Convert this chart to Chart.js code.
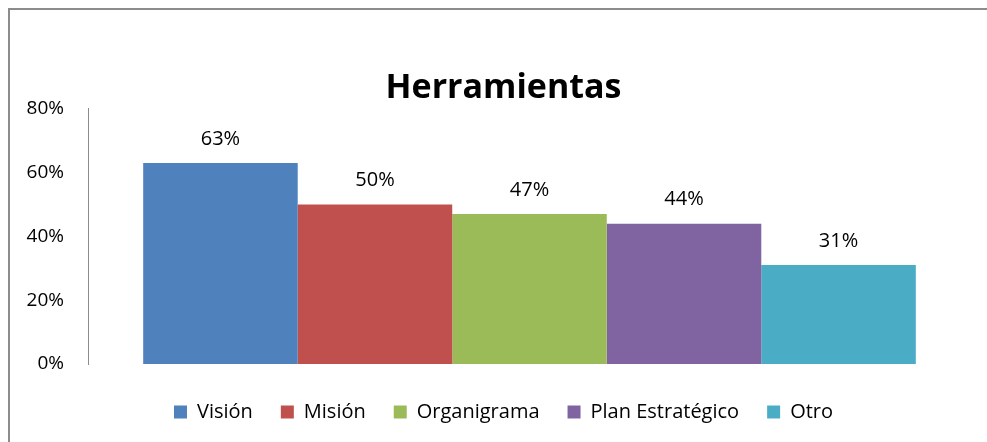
<!DOCTYPE html>
<html>
<head>
<meta charset="utf-8">
<script src="https://cdn.jsdelivr.net/npm/chart.js@4"></script>
<style>
    html, body { margin: 0; padding: 0; background: #fff; overflow: hidden; }
</style>
</head>
<body>
<canvas id="chart" width="987" height="442"></canvas>
<script>
const categories = ['Visión', 'Misión', 'Organigrama', 'Plan Estratégico', 'Otro'];
const values = [63, 50, 47, 44, 31];
const colors = ['#4F81BD', '#C0504D', '#9BBB59', '#8064A2', '#4BACC6'];
const yTicks = [0, 20, 40, 60, 80];

const fontFamily = '"Open Sans", Lato, sans-serif';

// marco gris del gráfico (izquierda y arriba, el resto queda fuera)
const frame = {
    id: 'frame',
    beforeDraw(chart) {
        const ctx = chart.ctx;
        ctx.save();
        ctx.strokeStyle = '#8c8c8c';
        ctx.lineWidth = 2;
        ctx.beginPath();
        ctx.moveTo(9, chart.height);
        ctx.lineTo(9, 9);
        ctx.lineTo(chart.width, 9);
        ctx.stroke();
        ctx.restore();
    }
};

// etiquetas encima de cada barra
const valueLabels = {
    id: 'valueLabels',
    afterDatasetsDraw(chart) {
        const ctx = chart.ctx;
        ctx.save();
        ctx.font = '20px ' + fontFamily;
        ctx.fillStyle = '#000';
        ctx.textAlign = 'center';
        ctx.textBaseline = 'middle';
        chart.data.datasets.forEach((ds, i) => {
            const bar = chart.getDatasetMeta(i).data[0];
            ctx.fillText(ds.data[0] + '%', bar.x, bar.y - 24);
        });
        ctx.restore();
    }
};

const datasets = categories.map((name, i) => ({
    label: name,
    data: [values[i]],
    backgroundColor: colors[i],
    borderWidth: 0
}));

new Chart(document.getElementById('chart'), {
    type: 'bar',
    data: { labels: [''], datasets: datasets },
    options: {
        responsive: false,
        animation: false,
        layout: { padding: { top: 60, right: 0, bottom: 10, left: 20 } },
        datasets: { bar: { categoryPercentage: 0.875, barPercentage: 1 } },
        scales: {
            x: {
                display: true,
                afterFit: s => { s.height = 10; },
                grid: { display: false },
                border: { display: false },
                ticks: { display: false }
            },
            y: {
                min: 0,
                max: 80,
                afterFit: s => { s.width = 68; },
                afterBuildTicks: s => { s.ticks = yTicks.map(v => ({ value: v })); },
                grid: { display: false, drawTicks: false },
                border: { display: true, color: '#8c8c8c', width: 1 },
                ticks: {
                    padding: 24,
                    color: '#000',
                    font: { size: 19, family: fontFamily },
                    callback: v => v + '%'
                }
            },
            // eje vacío a la derecha para dejar el margen
            y2: {
                position: 'right',
                display: true,
                afterFit: s => { s.width = 16; },
                grid: { display: false },
                border: { display: false },
                ticks: { display: false }
            }
        },
        plugins: {
            title: {
                display: true,
                text: 'Herramientas',
                color: '#000',
                font: { size: 34, weight: 'bold', family: fontFamily },
                padding: { top: 8, bottom: 0 }
            },
            legend: {
                position: 'bottom',
                labels: {
                    boxWidth: 13,
                    boxHeight: 13,
                    padding: 28,
                    color: '#000',
                    font: { size: 20, family: fontFamily }
                }
            },
            tooltip: { enabled: false }
        }
    },
    plugins: [frame, valueLabels]
});
</script>
</body>
</html>
